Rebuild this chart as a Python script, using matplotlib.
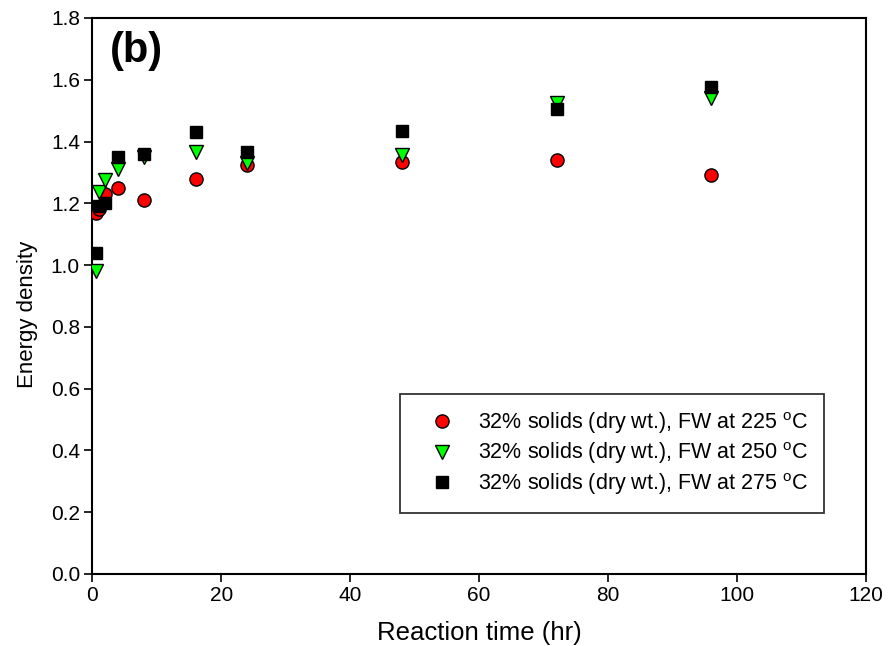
import matplotlib
matplotlib.use("Agg")
import matplotlib.pyplot as plt

plt.rcParams['font.family'] = ['Liberation Sans', 'DejaVu Sans']
plt.rcParams['mathtext.fontset'] = 'custom'
plt.rcParams['mathtext.rm'] = 'Liberation Sans'

# Reaction times (hr) and energy densities for each temperature
time_hr = [0.5, 1, 2, 4, 8, 16, 24, 48, 72, 96]
ed_225 = [1.17, 1.18, 1.23, 1.25, 1.21, 1.28, 1.325, 1.335, 1.34, 1.29]
ed_250 = [0.98, 1.235, 1.275, 1.31, 1.35, 1.365, 1.33, 1.355, 1.525, 1.54]
ed_275 = [1.04, 1.19, 1.20, 1.35, 1.36, 1.43, 1.366, 1.434, 1.505, 1.577]

labels = [
    r"32% solids (dry wt.), FW at 225 $^{\rm o}$C",
    r"32% solids (dry wt.), FW at 250 $^{\rm o}$C",
    r"32% solids (dry wt.), FW at 275 $^{\rm o}$C",
]
x_ticks = [0, 20, 40, 60, 80, 100, 120]
y_ticks = [0.0, 0.2, 0.4, 0.6, 0.8, 1.0, 1.2, 1.4, 1.6, 1.8]

fig = plt.figure(figsize=(8.89, 6.46), dpi=100)
ax = fig.add_axes([0.104, 0.1115, 0.870, 0.8607])

ms = 9.5
ax.plot(time_hr, ed_225, linestyle='none', marker='o', ms=ms, mfc='#ff0000',
        mec='black', mew=1.0, label=labels[0], zorder=3)
ax.plot(time_hr, ed_250, linestyle='none', marker='v', ms=ms + 1, mfc='#00ff00',
        mec='black', mew=1.0, label=labels[1], zorder=4)
ax.plot(time_hr, ed_275, linestyle='none', marker='s', ms=ms - 0.5, mfc='black',
        mec='black', mew=1.0, label=labels[2], zorder=5)

ax.set_xlim(0, 120)
ax.set_ylim(0, 1.8)
ax.set_xticks(x_ticks)
ax.set_yticks(y_ticks)
ax.set_xticklabels([str(v) for v in x_ticks])
ax.set_yticklabels([f"{v:.1f}" for v in y_ticks])
ax.tick_params(direction='out', length=6, width=1.2, labelsize=15, pad=3)
for sp in ax.spines.values():
    sp.set_linewidth(1.5)

ax.set_xlabel("Reaction time (hr)", fontsize=18.5, labelpad=11)
ax.set_ylabel("Energy density", fontsize=16)
ax.yaxis.set_label_coords(-0.071, 0.466)

ax.text(0.022, 0.94, "(b)", transform=ax.transAxes, fontsize=30,
        fontweight='bold', ha='left', va='center')

leg = ax.legend(loc='upper left', bbox_to_anchor=(0.398, 0.324), fontsize=15.5,
                frameon=True, fancybox=False, borderpad=0.75, handlelength=2.4,
                handletextpad=0.45, labelspacing=0.22, borderaxespad=0)
leg.get_frame().set_edgecolor('black')
leg.get_frame().set_linewidth(1.3)

fig.savefig("out.png", dpi=100)
